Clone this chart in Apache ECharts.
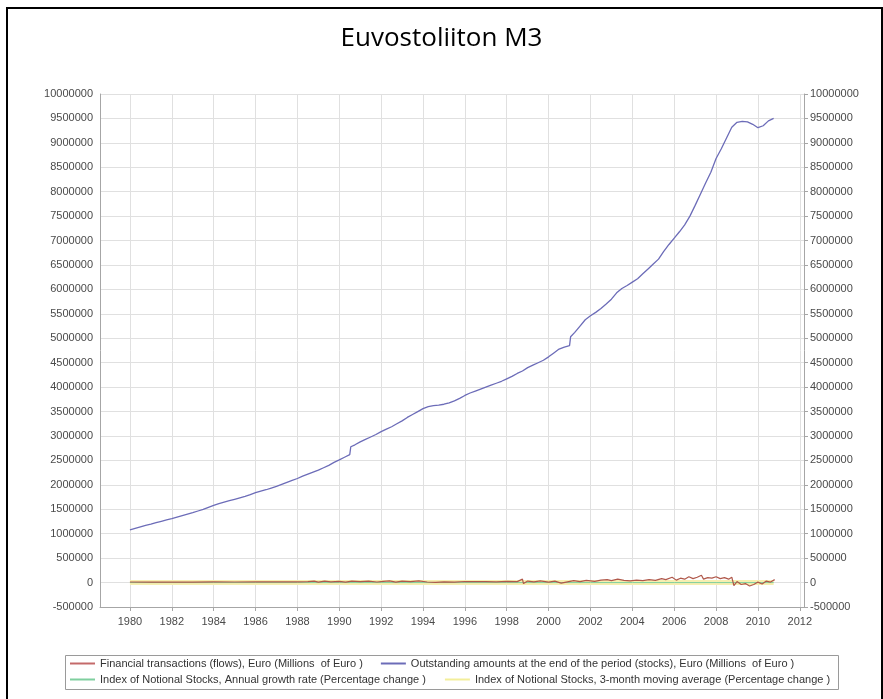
<!DOCTYPE html>
<html><head><meta charset="utf-8">
<script src="https://cdn.jsdelivr.net/npm/echarts@6/dist/echarts.min.js"></script>
<style>html,body{margin:0;padding:0;background:#fff}#c{width:883px;height:699px}</style>
</head><body><div id="c"></div>
<script>
const titleText = 'Euvostoliiton M3';
const seriesNames = [
  'Financial transactions (flows), Euro (Millions  of Euro )',
  'Outstanding amounts at the end of the period (stocks), Euro (Millions  of Euro )',
  'Index of Notional Stocks, Annual growth rate (Percentage change )',
  'Index of Notional Stocks, 3-month moving average (Percentage change )'
];
const xTickYears = [1980,1982,1984,1986,1988,1990,1992,1994,1996,1998,2000,2002,2004,2006,2008,2010,2012];

const stockYears = [1980,1980.25,1980.5,1980.75,1981,1981.25,1981.5,1981.75,1982,1982.25,1982.5,1982.75,1983,1983.25,1983.5,1983.75,1984,1984.25,1984.5,1984.75,1985,1985.25,1985.5,1985.75,1986,1986.25,1986.5,1986.75,1987,1987.25,1987.5,1987.75,1988,1988.25,1988.5,1988.75,1989,1989.25,1989.5,1989.75,1990,1990.25,1990.5,1990.55,1990.75,1991,1991.25,1991.5,1991.75,1992,1992.25,1992.5,1992.75,1993,1993.25,1993.5,1993.75,1994,1994.25,1994.5,1994.75,1995,1995.25,1995.5,1995.75,1996,1996.25,1996.5,1996.75,1997,1997.25,1997.5,1997.75,1998,1998.25,1998.5,1998.75,1999,1999.25,1999.5,1999.75,2000,2000.25,2000.5,2000.75,2001,2001.05,2001.25,2001.5,2001.75,2002,2002.25,2002.5,2002.75,2003,2003.25,2003.5,2003.75,2004,2004.25,2004.5,2004.75,2005,2005.25,2005.5,2005.75,2006,2006.25,2006.5,2006.75,2007,2007.25,2007.5,2007.75,2008,2008.25,2008.5,2008.75,2009,2009.25,2009.5,2009.75,2010,2010.25,2010.5,2010.75];
const stockValues = [1080000,1110000,1140000,1170000,1195000,1225000,1255000,1283000,1310000,1340000,1370000,1400000,1430000,1465000,1500000,1540000,1580000,1615000,1645000,1675000,1705000,1735000,1765000,1800000,1840000,1870000,1900000,1935000,1970000,2010000,2050000,2090000,2130000,2180000,2220000,2260000,2300000,2350000,2400000,2460000,2510000,2565000,2620000,2780000,2820000,2880000,2930000,2980000,3030000,3090000,3140000,3190000,3250000,3310000,3380000,3440000,3500000,3560000,3600000,3620000,3630000,3650000,3680000,3720000,3770000,3830000,3880000,3920000,3960000,4000000,4040000,4080000,4120000,4170000,4220000,4280000,4330000,4400000,4450000,4500000,4550000,4620000,4700000,4780000,4820000,4850000,5030000,5120000,5250000,5380000,5460000,5530000,5610000,5700000,5800000,5930000,6020000,6080000,6150000,6220000,6320000,6420000,6520000,6620000,6780000,6920000,7050000,7180000,7320000,7500000,7720000,7950000,8180000,8400000,8680000,8880000,9100000,9320000,9420000,9440000,9430000,9380000,9310000,9350000,9450000,9500000];

const flowYears = [1980,1981,1982,1983,1984,1985,1986,1987,1988,1988.5,1988.8,1989,1989.3,1989.6,1990,1990.3,1990.6,1991,1991.4,1991.8,1992.1,1992.4,1992.7,1993,1993.4,1993.8,1994.2,1994.6,1995,1995.5,1996,1996.5,1997,1997.5,1998,1998.5,1998.75,1998.8,1999,1999.3,1999.6,2000,2000.3,2000.6,2000.9,2001.2,2001.5,2001.8,2002.2,2002.5,2002.8,2003,2003.3,2003.6,2003.9,2004.2,2004.5,2004.8,2005.1,2005.4,2005.6,2005.9,2006.1,2006.3,2006.5,2006.7,2006.9,2007.1,2007.3,2007.4,2007.6,2007.8,2008,2008.2,2008.4,2008.6,2008.75,2008.85,2009,2009.2,2009.4,2009.6,2009.8,2010,2010.2,2010.4,2010.6,2010.8];
const flowValues = [12000,10000,12000,11000,13000,12000,14000,15000,16000,18000,30000,10000,28000,15000,25000,10000,30000,18000,30000,12000,25000,35000,8000,28000,20000,35000,12000,5000,15000,10000,22000,18000,20000,15000,25000,20000,70000,-20000,30000,15000,35000,10000,30000,-10000,15000,40000,20000,45000,25000,50000,60000,40000,70000,45000,35000,50000,40000,60000,45000,80000,60000,110000,50000,90000,70000,120000,80000,110000,150000,70000,100000,90000,120000,80000,100000,70000,110000,-60000,20000,-40000,-20000,-70000,-40000,10000,-30000,30000,10000,60000];

const growthYears = [1980,1982,1984,1986,1988,1990,1992,1994,1996,1998,2000,2002,2004,2006,2008,2009,2010,2010.75];
const growthValues = [10,9,8,7,9,8,6,2,4,5,4,7,6,9,10,4,0,1];
const movAvgValues = [10,9,8,7,9,8,6,2,4,5,4,7,6,9,10,3,0,1];

function pairs(xs, ys){ return xs.map((x,i)=>[x, ys[i]]); }

const chart = echarts.init(document.getElementById('c'), null, {renderer:'canvas'});
const axisColor = '#a6a6a6';
const labelColor = '#4a4a4a';
const font = 'Liberation Sans, Arial, sans-serif';

chart.setOption({
  animation:false,
  backgroundColor:'#fff',
  title:{text:titleText, left:'center', top:21,
    textStyle:{fontFamily:'Open Sans, sans-serif', fontSize:26, fontWeight:'normal', color:'#000'}},
  grid:{left:100, right:79, top:94, bottom:92, containLabel:false},
  xAxis:{type:'value', min:1978.57, max:2012.2,
    axisLine:{show:true, onZero:false, lineStyle:{color:axisColor}},
    axisTick:{show:true, customValues:xTickYears, length:4, lineStyle:{color:axisColor}},
    axisLabel:{customValues:xTickYears, color:labelColor, fontSize:11, fontFamily:font, margin:9, formatter:v=>String(v)},
    splitLine:{show:true, lineStyle:{color:'#e0e0e0'}}
  },
  yAxis:[
    {type:'value', min:-500000, max:10000000, interval:500000, position:'left',
      axisLine:{show:true, lineStyle:{color:axisColor}},
      axisTick:{show:false},
      axisLabel:{color:labelColor, fontSize:11, fontFamily:font, margin:7, formatter:v=>String(v)},
      splitLine:{show:true, lineStyle:{color:'#e0e0e0'}}
    },
    {type:'value', min:-500000, max:10000000, interval:500000, position:'right',
      axisLine:{show:true, lineStyle:{color:axisColor}},
      axisTick:{show:true, length:4, lineStyle:{color:axisColor}},
      axisLabel:{color:labelColor, fontSize:11, fontFamily:font, margin:6, formatter:v=>String(v)},
      splitLine:{show:false}
    }
  ],
  legend:[
    {data:[seriesNames[0], seriesNames[1]], left:70, top:658, orient:'horizontal',
      icon:'rect', itemWidth:25, itemHeight:2, itemGap:18, padding:0,
      textStyle:{fontSize:11, fontFamily:font, color:'#333'}},
    {data:[seriesNames[2], seriesNames[3]], left:70, top:674, orient:'horizontal',
      icon:'rect', itemWidth:25, itemHeight:2, itemGap:19, padding:0,
      textStyle:{fontSize:11, fontFamily:font, color:'#333'}}
  ],
  graphic:[
    {type:'rect', shape:{x:7, y:8, width:875, height:700}, style:{fill:'transparent', stroke:'#000', lineWidth:2}, silent:true},
    {type:'rect', shape:{x:65.5, y:655.5, width:773, height:34}, style:{fill:'transparent', stroke:'#9a9a9a', lineWidth:1}, silent:true}
  ],
  series:[
    {name:seriesNames[3], type:'line', data:pairs(growthYears, movAvgValues), showSymbol:false, symbol:'none',
      lineStyle:{color:'#f6efb0', width:5}, itemStyle:{color:'#f3ee9a'}},
    {name:seriesNames[2], type:'line', data:pairs(growthYears, growthValues), showSymbol:false, symbol:'none',
      lineStyle:{color:'#7fcf9f', width:1}, itemStyle:{color:'#7fcf9f'}},
    {name:seriesNames[0], type:'line', data:pairs(flowYears, flowValues), showSymbol:false, symbol:'none',
      lineStyle:{color:'#b0584a', width:1.2}, itemStyle:{color:'#c46a6a'}},
    {name:seriesNames[1], type:'line', data:pairs(stockYears, stockValues), showSymbol:false, symbol:'none',
      lineStyle:{color:'#6c6cb8', width:1.3}, itemStyle:{color:'#6c6cb8'}}
  ]
});
</script></body></html>
